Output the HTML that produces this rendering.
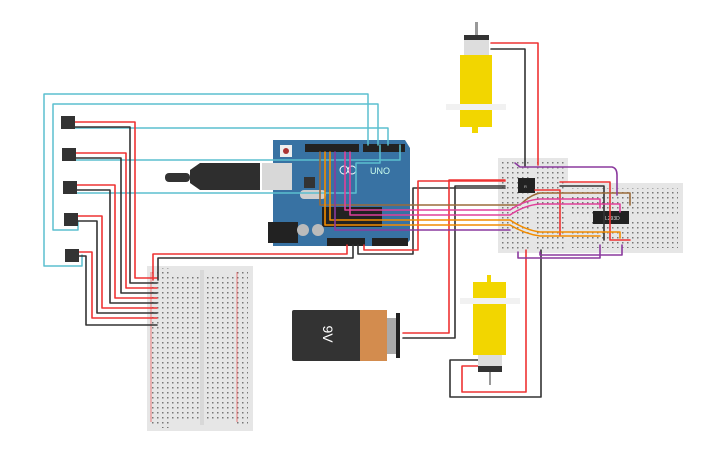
<!DOCTYPE html>
<html><head><meta charset="utf-8"><style>
html,body{margin:0;padding:0;background:#fff;width:725px;height:453px;overflow:hidden}
svg{display:block;font-family:"Liberation Sans",sans-serif}
</style></head><body>
<svg width="725" height="453" viewBox="0 0 725 453" xmlns="http://www.w3.org/2000/svg">
<defs>
<pattern id="d" x="0" y="0" width="5" height="5" patternUnits="userSpaceOnUse"><rect x="2" y="2" width="1.5" height="1.5" fill="#777"/></pattern>
</defs>
<!-- left breadboard -->
<rect x="147" y="266" width="106" height="165" fill="#e6e6e6"/>
<rect x="160" y="268" width="10" height="160" fill="url(#d)"/>
<rect x="170" y="276" width="30" height="145" fill="url(#d)"/>
<rect x="204" y="276" width="30" height="145" fill="url(#d)"/>
<rect x="237" y="270" width="11" height="155" fill="url(#d)"/>
<rect x="151" y="270" width="8" height="155" fill="url(#d)"/>
<line x1="237" y1="272" x2="237" y2="422" stroke="#e33" stroke-width="0.6"/>
<line x1="151" y1="272" x2="151" y2="422" stroke="#e33" stroke-width="0.6"/>
<rect x="200" y="270" width="4" height="155" fill="#d8d8d8"/>
<!-- right breadboards -->
<rect x="565" y="183" width="118" height="70" fill="#e6e6e6"/>
<rect x="570" y="188" width="108" height="60" fill="url(#d)"/>
<rect x="570" y="214" width="108" height="6" fill="#e6e6e6"/>
<rect x="498" y="158" width="70" height="95" fill="#e6e6e6"/>
<rect x="502" y="162" width="62" height="87" fill="url(#d)"/>
<rect x="530" y="162" width="6" height="87" fill="#e6e6e6"/>
<rect x="518" y="178" width="17" height="15" fill="#222"/>
<text x="524" y="188" font-size="4" fill="#ccc">R</text>
<rect x="593" y="211" width="36" height="13" fill="#222"/>
<text x="605" y="220" font-size="5" fill="#ddd">L293D</text>
<!-- arduino -->
<path d="M273,140 L405,140 L410,148 L410,240 L405,246 L273,246 Z" fill="#3872a3"/>
<rect x="305" y="144" width="54" height="8" fill="#222"/>
<rect x="363" y="144" width="42" height="8" fill="#222"/>
<rect x="327" y="238" width="38" height="8" fill="#222"/>
<rect x="372" y="238" width="36" height="8" fill="#222"/>
<rect x="322" y="207" width="60" height="20" fill="#222"/>
<rect x="262" y="163" width="30" height="27" fill="#d8d8d8"/>
<rect x="268" y="222" width="30" height="21" fill="#222"/>
<circle cx="303" cy="230" r="6" fill="#bbb"/><circle cx="318" cy="230" r="6" fill="#bbb"/>
<rect x="300" y="190" width="26" height="9" rx="4" fill="#cfcfcf"/>
<rect x="280" y="145" width="12" height="12" fill="#eee"/><circle cx="286" cy="151" r="3" fill="#a33"/>
<rect x="304" y="177" width="11" height="11" fill="#333"/>
<text x="370" y="174" font-size="9" fill="#cfe">UNO</text>
<circle cx="344" cy="170" r="4" fill="none" stroke="#fff"/><circle cx="352" cy="170" r="4" fill="none" stroke="#fff"/>
<!-- usb cable -->
<rect x="165" y="173" width="25" height="9" rx="4" fill="#333"/>
<path d="M190,170 L200,163 L260,163 L260,190 L200,190 L190,183 Z" fill="#2e2e2e"/>
<g fill="none" stroke-linejoin="round" stroke-linecap="round">
<g stroke="#5bbfcf" stroke-width="1.5">
<path d="M82,255 L82,266 L44,266 L44,94 L368,94 L368,145"/>
<path d="M78,222 L78,230 L53,230 L53,104 L378,104 L378,145"/>
<path d="M75,128 L388,128 L388,145"/>
<path d="M74,160 L400,160 L400,145"/>
<path d="M75,193 L356,193 L356,163 L380,163 L380,145"/>
</g>
<g stroke-width="1.6">
<path d="M75,122 L135,122 L135,278 L157,278" stroke="#e33"/>
<path d="M75,127 L130,127 L130,283 L157,283" stroke="#333"/>
<path d="M75,153 L126,153 L126,288 L157,288" stroke="#e33"/>
<path d="M75,158 L121,158 L121,293 L157,293" stroke="#333"/>
<path d="M76,185 L115,185 L115,298 L157,298" stroke="#e33"/>
<path d="M76,190 L110,190 L110,303 L157,303" stroke="#333"/>
<path d="M77,216 L102,216 L102,308 L157,308" stroke="#e33"/>
<path d="M77,221 L97,221 L97,313 L157,313" stroke="#333"/>
<path d="M78,252 L92,252 L92,318 L157,318" stroke="#e33"/>
<path d="M78,256 L86,256 L86,325 L157,325" stroke="#333"/>
<path d="M347,245 L347,254 L153,254 L153,280" stroke="#e33"/>
<path d="M353,245 L353,258 L158,258 L158,280" stroke="#333"/>
<path d="M358,245 L358,254 L413,254 L413,188 L505,188" stroke="#333"/>
<path d="M364,245 L364,250 L418,250 L418,181 L505,181" stroke="#e33"/>
<path d="M403,333 L449,333 L449,180 L505,180" stroke="#e33"/>
<path d="M403,338 L455,338 L455,186 L505,186" stroke="#333"/>
<path d="M491,43 L538,43 L538,165" stroke="#e33"/>
<path d="M491,49 L525,49 L525,167" stroke="#333"/>
<path d="M478,360 L450,360 L450,397 L541,397 L541,250" stroke="#333"/>
<path d="M478,366 L462,366 L462,392 L526,392 L526,250" stroke="#e33"/>
<path d="M535,190 L560,190 L560,235" stroke="#e33"/>
<path d="M560,182 L610,182 L610,240 L630,240" stroke="#e33"/>
<path d="M560,186 L604,186 L604,240" stroke="#333"/>
</g>
<g stroke-width="1.6">
<path d="M320,152 L320,205 L520,205 Q530,195 540,193 L630,193 L630,205" stroke="#9b6b3a"/>
<path d="M345,152 L345,210 L510,210 Q525,200 540,199 L600,199 L600,208" stroke="#e0409a"/>
<path d="M350,152 L350,215 L510,215 Q525,205 540,204 L620,204 L620,212" stroke="#e0409a"/>
<path d="M330,152 L330,220 L510,220 Q525,230 540,232 L620,232 L620,238" stroke="#f28c00"/>
<path d="M325,152 L325,225 L510,225 Q525,234 540,236 L600,236" stroke="#f28c00"/>
<path d="M335,152 L335,230 L510,230" stroke="#8b3a9e"/>
<path d="M515,163 L520,167 L612,167 Q617,168 617,175 L617,195" stroke="#8b3a9e"/>
<path d="M518,252 L518,258 L600,258 L600,245" stroke="#8b3a9e"/>
<path d="M540,252 L540,255 L622,255 L622,245" stroke="#8b3a9e"/>
</g>
</g>
<!-- sensors -->
<g fill="#333"><rect x="61" y="116" width="14" height="13"/><rect x="62" y="148" width="14" height="13"/><rect x="63" y="181" width="14" height="13"/><rect x="64" y="213" width="14" height="13"/><rect x="65" y="249" width="14" height="13"/></g>
<!-- battery -->
<rect x="292" y="310" width="70" height="51" rx="2" fill="#333"/>
<rect x="360" y="310" width="27" height="51" fill="#d38c4e"/>
<rect x="387" y="318" width="10" height="36" fill="#aaa"/>
<rect x="396" y="313" width="4" height="45" fill="#222"/>
<text x="0" y="0" transform="translate(323,334) rotate(90)" font-size="14" fill="#fff" text-anchor="middle">9V</text>
<!-- top motor -->
<rect x="475" y="22" width="3" height="14" fill="#999"/>
<rect x="464" y="35" width="25" height="20" fill="#ddd"/><rect x="464" y="35" width="25" height="5" fill="#333"/>
<rect x="460" y="55" width="32" height="72" fill="#f2d600"/>
<rect x="446" y="104" width="60" height="6" fill="#f1f1f1"/>
<rect x="472" y="127" width="6" height="6" fill="#f2d600"/>
<!-- bottom motor -->
<rect x="487" y="275" width="4" height="7" fill="#f2d600"/>
<rect x="473" y="282" width="33" height="73" fill="#f2d600"/>
<rect x="460" y="298" width="60" height="6" fill="#f1f1f1"/>
<rect x="478" y="355" width="24" height="17" fill="#ddd"/><rect x="478" y="366" width="24" height="6" fill="#333"/>
<rect x="489" y="372" width="2" height="13" fill="#999"/>
</svg>
</body></html>
